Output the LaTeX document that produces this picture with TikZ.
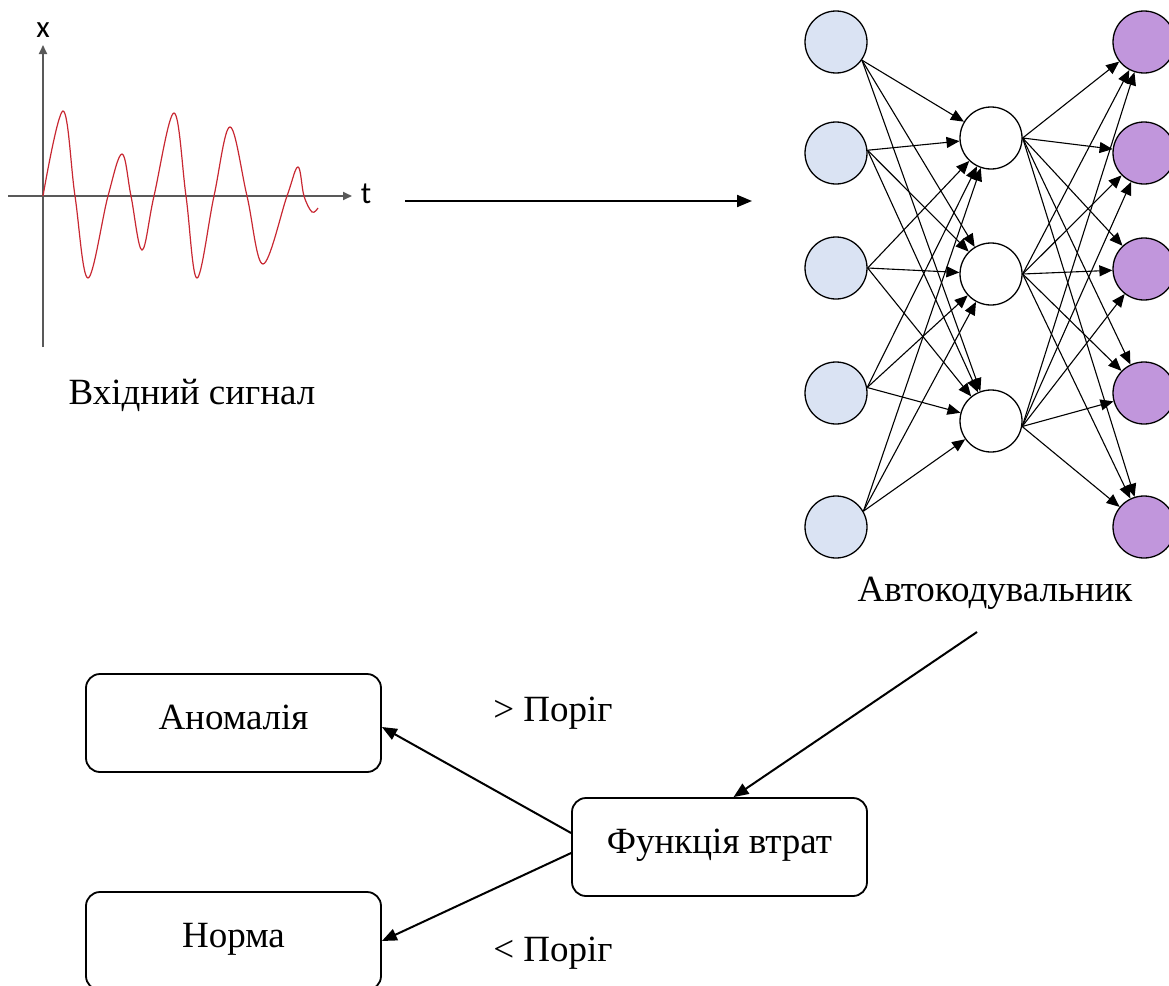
\documentclass[tikz,border=0pt]{standalone}
\usepackage{fontspec}
\setmainfont{Liberation Serif}
\newfontfamily\axisfont{Carlito}
\usetikzlibrary{arrows.meta}
\definecolor{inblue}{RGB}{218,227,243}
\definecolor{outpurple}{RGB}{193,150,220}
\definecolor{axisgray}{RGB}{89,89,89}
\definecolor{sigred}{RGB}{200,40,50}
\begin{document}
\begin{tikzpicture}[x=1pt,y=-1pt,
 neuron/.style={circle,draw=black,line width=1.3pt,minimum size=62pt,inner sep=0pt},
 inn/.style={neuron,fill=inblue},
 hid/.style={neuron,fill=white},
 outn/.style={neuron,fill=outpurple},
 conn/.style={line width=1.1pt,-{Triangle[length=13pt,width=11pt]}},
 flow/.style={line width=2pt,-{Triangle[length=15pt,width=12pt]}},
 axis/.style={axisgray,line width=1.8pt,-{Triangle[length=9pt,width=8pt]}},
 lbl/.style={font=\fontsize{37}{44}\selectfont},
 box/.style={draw,rounded corners=14pt,line width=1.8pt,minimum width=295pt,minimum height=98pt,text height=23pt,text depth=10pt,lbl}]
\useasboundingbox (0,0) rectangle (1169,985);
% signal plot
\draw[axis] (43,347) -- (43,45);
\draw[axis] (8,196) -- (352,196);
\node[font=\axisfont\fontsize{31}{36}\selectfont] (xl) at (43,30) {x};
\node[font=\axisfont\fontsize{31}{36}\selectfont] (tl) at (366,194) {t};
\draw[sigred,line width=1.2pt] plot[smooth,tension=0.6] coordinates {(43,196) (63,111) (75,196) (88,278) (108,196) (122,154) (131,196) (142,250) (154,196) (174,113) (186,196) (197,278) (214,196) (230,127) (247,196) (263,264) (287,196) (298,167) (304,196) (312,212) (318,208)};
\node[lbl] (sig) at (192,395) {Вхідний сигнал};
\coordinate (s1) at (405,201);
\coordinate (s2) at (752,201);
\draw[flow] (s1) -- (s2);
% network
\foreach \i/\y in {1/42,2/153,3/268,4/393,5/527} \node[inn] (i\i) at (836,\y) {};
\foreach \h/\y in {1/138,2/274,3/421} \node[hid] (h\h) at (991,\y) {};
\foreach \o/\y in {1/42,2/153,3/269,4/393,5/527} \node[outn] (o\o) at (1144,\y) {};
\foreach \i/\a in {1/-35,2/5,3/0,4/10,5/30} \foreach \h in {1,2,3} \draw[conn] (i\i.\a) -- (h\h);
\foreach \h/\a in {1/0,2/0,3/-10} \foreach \o in {1,...,5} \draw[conn] (h\h.\a) -- (o\o);
\node[lbl] (ael) at (995,593) {Автокодувальник};
% decision
\node[box] (anom) at (233.5,723) {Аномалія};
\node[box] (norm) at (233.5,941) {Норма};
\node[box] (func) at (719.5,847) {Функція втрат};
\coordinate (ae) at (977,632);
\draw[flow] (ae) -- ([xshift=14pt]func.north);
\draw[flow] ([yshift=14pt]func.west) -- ([yshift=-4pt]anom.east);
\draw[flow] ([yshift=-6pt]func.west) -- (norm.east);
\node[lbl] (gt) at (553,713) {> Поріг};
\node[lbl] (lt) at (553,953) {< Поріг};
\end{tikzpicture}
\end{document}
